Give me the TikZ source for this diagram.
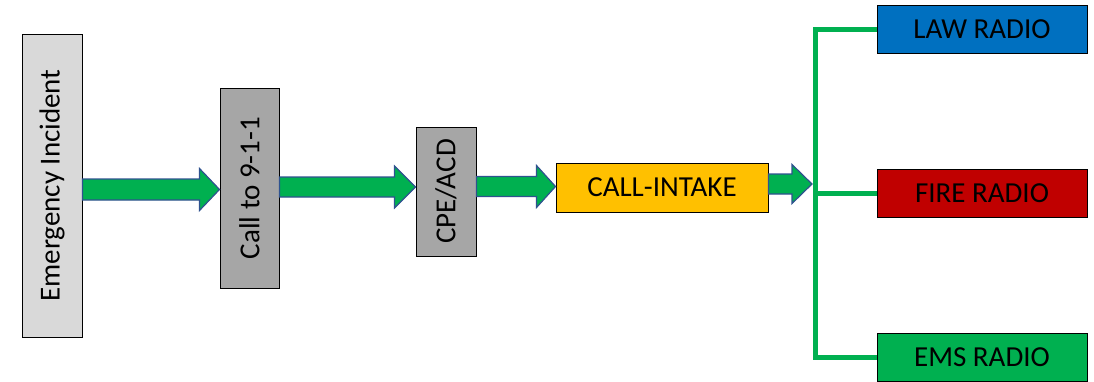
\documentclass[tikz,border=0pt]{standalone}
\usepackage{fontspec}
\setmainfont{Carlito}
\usetikzlibrary{calc}
\definecolor{lightgray}{HTML}{D9D9D9}
\definecolor{midgray}{HTML}{A6A6A6}
\definecolor{intake}{HTML}{FFC000}
\definecolor{lawblue}{HTML}{0070C0}
\definecolor{firered}{HTML}{C00000}
\definecolor{emsgreen}{HTML}{00B050}
\definecolor{arrowedge}{HTML}{2F528F}
\tikzset{
  box/.style={draw=black, line width=1pt, inner sep=0pt, font=\fontsize{29}{32}\selectfont},
  flow/.style={fill=emsgreen, draw=arrowedge, line width=1.2pt, line join=miter},
  branch/.style={draw=emsgreen, line width=5pt}
}
% block arrow from anchor #1 to anchor #2, centred at height #3,
% shaft half-height #4, head half-height #5, head length #6
\newcommand\blockarrow[6]{%
  \path[flow] let \p1=(#1), \p2=(#2) in
    (\x1,#3-#4) -- (\x2-#6,#3-#4) -- (\x2-#6,#3-#5) -- (\x2,#3)
    -- (\x2-#6,#3+#5) -- (\x2-#6,#3+#4) -- (\x1,#3+#4) -- cycle;}
\begin{document}
\begin{tikzpicture}[x=1pt,y=-1pt]
\useasboundingbox (0,0) rectangle (1094,381);
% process chain (vertical boxes are rotated: their right side is .south, left side .north)
\node[box, fill=lightgray, rotate=90, minimum width=303pt, minimum height=60pt] (incident) at (52,185.5) {Emergency Incident};
\node[box, fill=midgray, rotate=90, minimum width=200pt, minimum height=59pt] (call) at (249.5,188) {Call to 9-1-1};
\node[box, fill=midgray, rotate=90, minimum width=129pt, minimum height=60pt] (cpe) at (446,191.5) {CPE/ACD};
\node[box, fill=intake, minimum width=212pt, minimum height=49pt] (intake) at (662,187.5) {CALL-INTAKE};
% dispatch radios
\node[box, fill=lawblue, minimum width=210pt, minimum height=48pt] (law) at (982,29) {LAW RADIO};
\node[box, fill=firered, minimum width=210pt, minimum height=48pt] (fire) at (982,193) {FIRE RADIO};
\node[box, fill=emsgreen, minimum width=210pt, minimum height=48pt] (ems) at (982,357) {EMS RADIO};
% branching lines
\coordinate (hub) at (815,193);
\draw[branch] (law.west) -| (hub) |- (ems.west);
\draw[branch] (hub) -- (fire.west);
% flow arrows
\blockarrow{incident.south}{call.north}{189.5}{10.5}{21}{20}
\blockarrow{call.south}{cpe.north}{187}{10}{21}{21}
\blockarrow{cpe.south}{intake.west}{186.5}{10}{21}{19}
\path[flow] let \p1=(intake.east), \p2=(hub) in
  (\x1,184-10) -- (\x2-23,184-10) -- (\x2-23,184-19.5) -- (\x2-3,184)
  -- (\x2-23,184+19.5) -- (\x2-23,184+10) -- (\x1,184+10) -- cycle;
\end{tikzpicture}
\end{document}
